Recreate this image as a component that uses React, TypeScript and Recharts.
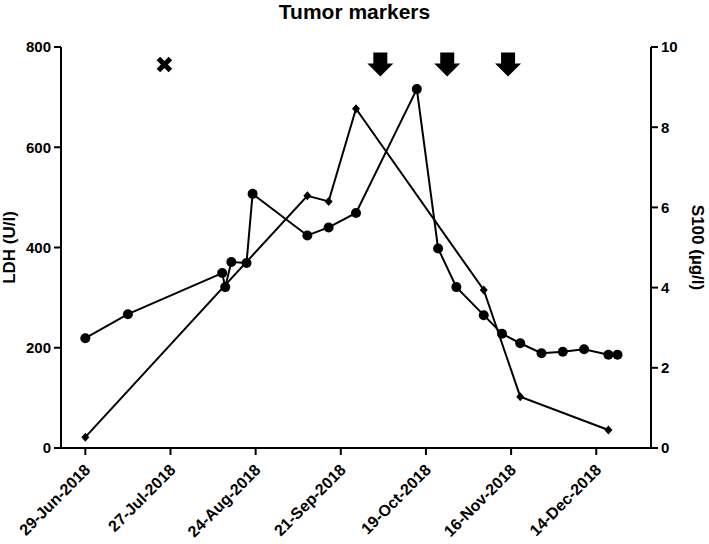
import { ComposedChart, Line, Scatter, XAxis, YAxis } from 'recharts';

// days counted from 29-Jun-2018
const ldhDays = [0, 14, 45, 46, 48, 53, 55, 73, 80, 89, 109, 116, 122, 131, 137, 143, 150, 157, 164, 172, 175];
const ldhValues = [219, 267, 349, 321, 371, 369, 507, 424, 440, 469, 716, 398, 321, 265, 228, 209, 189, 192, 197, 186, 186];

const s100Days = [0, 73, 80, 89, 131, 143, 172];
const s100Values = [0.27, 6.29, 6.15, 8.46, 3.94, 1.28, 0.45];

const stopDays = [26];
const treatmentDays = [97, 119, 139];
const markerLevel = 765;

const xTicks = [0, 28, 56, 84, 112, 140, 168];
const ldhTicks = [0, 200, 400, 600, 800];
const s100Ticks = [0, 2, 4, 6, 8, 10];

const ldhData = ldhDays.map((day, i) => ({ day, ldh: ldhValues[i] }));
const s100Data = s100Days.map((day, i) => ({ day, s100: s100Values[i] }));
const stopData = stopDays.map((day) => ({ day, ldh: markerLevel }));
const treatmentData = treatmentDays.map((day) => ({ day, ldh: markerLevel }));

const MONTHS = ['Jan', 'Feb', 'Mar', 'Apr', 'May', 'Jun', 'Jul', 'Aug', 'Sep', 'Oct', 'Nov', 'Dec'];
const start = Date.UTC(2018, 5, 29);
const fmtDay = (d: number) => {
  const dt = new Date(start + d * 86400000);
  return `${dt.getUTCDate()}-${MONTHS[dt.getUTCMonth()]}-${dt.getUTCFullYear()}`;
};

const font = '"Liberation Sans", Arial, sans-serif';

const DateTick = ({ x, y, payload }: any) => {
  const tx = x + 6;
  const ty = y + 16;
  return (
    <text
      x={tx}
      y={ty}
      transform={`rotate(-45 ${tx} ${ty})`}
      textAnchor="end"
      fontSize={16}
      fontWeight="bold"
      fontFamily={font}
      fill="#000"
    >
      {fmtDay(payload.value)}
    </text>
  );
};

const Diamond = ({ cx, cy, index }: any) => (
  <path key={`d${index}`} d={`M${cx},${cy - 4.5}L${cx + 4},${cy}L${cx},${cy + 4.5}L${cx - 4},${cy}Z`} fill="#000" />
);

const Dot = ({ cx, cy, index }: any) => <circle key={`c${index}`} cx={cx} cy={cy} r={5} fill="#000" />;

const Arrow = ({ cx, cy }: any) => (
  <path
    d={`M${cx - 7},${cy - 12}H${cx + 7}V${cy - 1}H${cx + 13}L${cx},${cy + 12}L${cx - 13},${cy - 1}H${cx - 7}Z`}
    fill="#000"
  />
);

const Cross = ({ cx, cy }: any) => (
  <g stroke="#000" strokeWidth={5}>
    <line x1={cx - 6} y1={cy - 6} x2={cx + 6} y2={cy + 6} />
    <line x1={cx - 6} y1={cy + 6} x2={cx + 6} y2={cy - 6} />
  </g>
);

const tickStyle = { fontSize: 15, fontWeight: 'bold', fontFamily: font, fill: '#000' };
const axisLine = { stroke: '#000', strokeWidth: 2 };

export default function App() {
  return (
    <div style={{ position: 'absolute', left: 0, top: 0, width: 709, height: 544, background: '#fff' }}>
      <div
        style={{
          position: 'absolute',
          left: 0,
          top: 0,
          width: 709,
          textAlign: 'center',
          fontFamily: font,
          fontWeight: 'bold',
          fontSize: 21,
        }}
      >
        Tumor markers
      </div>
      <ComposedChart width={709} height={544} margin={{ top: 47, right: 0, bottom: 0, left: 0 }}>
        <XAxis
          dataKey="day"
          type="number"
          domain={[-8, 186]}
          ticks={xTicks}
          allowDataOverflow
          height={96}
          tickSize={7}
          tickMargin={0}
          tick={<DateTick />}
          axisLine={axisLine}
          tickLine={axisLine}
        />
        <YAxis
          yAxisId="ldh"
          orientation="left"
          domain={[0, 800]}
          ticks={ldhTicks}
          width={61}
          tickSize={7}
          tickMargin={3}
          tick={tickStyle}
          axisLine={axisLine}
          tickLine={axisLine}
          label={{
            value: 'LDH (U/l)',
            angle: -90,
            position: 'insideLeft',
            offset: 9,
            style: { textAnchor: 'middle', fontSize: 17, fontWeight: 'bold', fontFamily: font, fill: '#000' },
          }}
        />
        <YAxis
          yAxisId="s100"
          orientation="right"
          domain={[0, 10]}
          ticks={s100Ticks}
          width={58}
          tickSize={7}
          tickMargin={3}
          tick={tickStyle}
          axisLine={axisLine}
          tickLine={axisLine}
          label={{
            value: 'S100 (µg/l)',
            angle: 90,
            position: 'insideRight',
            offset: 11,
            style: { textAnchor: 'middle', fontSize: 17, fontWeight: 'bold', fontFamily: font, fill: '#000' },
          }}
        />
        <Line
          yAxisId="ldh"
          data={ldhData}
          dataKey="ldh"
          stroke="#000"
          strokeWidth={2}
          dot={<Dot />}
          activeDot={false}
          isAnimationActive={false}
        />
        <Line
          yAxisId="s100"
          data={s100Data}
          dataKey="s100"
          stroke="#000"
          strokeWidth={2}
          dot={<Diamond />}
          activeDot={false}
          isAnimationActive={false}
        />
        <Scatter yAxisId="ldh" data={stopData} dataKey="ldh" shape={<Cross />} isAnimationActive={false} />
        <Scatter yAxisId="ldh" data={treatmentData} dataKey="ldh" shape={<Arrow />} isAnimationActive={false} />
      </ComposedChart>
    </div>
  );
}
